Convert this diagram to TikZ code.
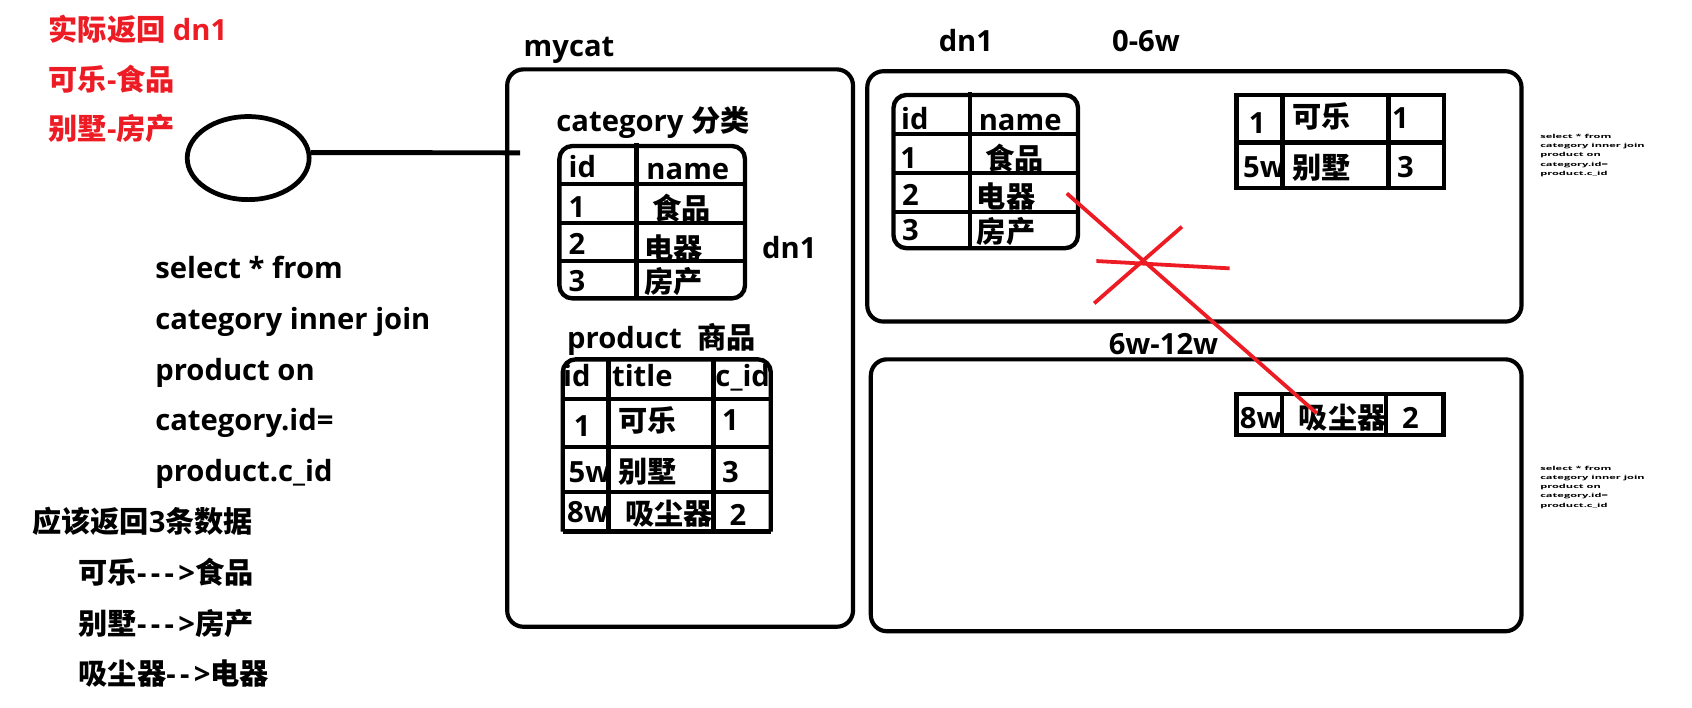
\documentclass[tikz,border=0pt]{standalone}
\usepackage{fontspec}
\usepackage{graphicx}
\setmainfont{Open Sans}
\newfontfamily\cjk{Noto Sans CJK SC}
\usetikzlibrary{shapes.geometric}
\definecolor{paintred}{RGB}{237,28,36}
\newcommand{\zh}[1]{{\cjk #1}}
\newcommand{\dsh}{-\kern.15em}
\tikzstyle{txt} = [anchor=west, inner sep=0pt, text height=11.1pt, text depth=0pt, font=\bfseries\fontsize{15.4}{18}\selectfont]
\tikzstyle{redtxt} = [txt, text=paintred]
\tikzset{
 box/.style
  = {draw, line width=2.2pt, rounded corners=0.3cm},
 tab/.style
  = {draw, line width=2.3pt},
 redline/.style
  = {draw=paintred, line width=2pt},
 tiny/.style
  = {anchor=north west, inner sep=0pt, font=\bfseries\fontsize{5.85}{9.7}\selectfont},
}

\begin{document}
\begin{tikzpicture}[x=0.02cm, y=-0.02cm]
\useasboundingbox (0,0) rectangle (1568,656);

% Result in red
\node[redtxt] (ret) at (44.7,27.8) {\zh{实际返回} dn1};
\node[redtxt] (ret1) at (44.7,73.7) {\zh{可乐}-\zh{食品}};
\node[redtxt] (ret2) at (44.7,119.6) {\zh{别墅}-\zh{房产}};

% Client
\node[draw, ellipse, line width=2.5pt, inner sep=0pt, minimum width=2.26cm, minimum height=1.54cm] (client) at (230,146.5) {};
\coordinate (hook) at (482,141.6);
\draw[line width=2.6pt] (client.5) -- (hook);

% Query
\node[txt] (q1) at (143.6,248.3) {select * from};
\node[txt] (q2) at (143.6,295.5) {category inner join};
\node[txt] (q3) at (143.6,342.5) {product on};
\node[txt] (q4) at (143.6,389.4) {category.id=};
\node[txt] (q5) at (143.6,436.7) {product.c\_id};
\node[txt] (should) at (29.4,484) {\zh{应该返回}3\zh{条数据}};
\node[txt] (ans1) at (72.6,530.6) {\zh{可乐}\dsh\dsh\dsh>\zh{食品}};
\node[txt] (ans2) at (72.6,578) {\zh{别墅}\dsh\dsh\dsh>\zh{房产}};
\node[txt] (ans3) at (72.6,625) {\zh{吸尘器}\dsh\dsh>\zh{电器}};

% mycat
\node[txt] (mycat) at (485,42.8) {mycat};
\draw[box] (470,64.3) rectangle (790.5,580.8);

% Category table
\node[txt] (catlbl) at (515.3,112.3) {category \zh{分类}};
\node[txt] (cid) at (526.7,154.6) {id};
\node[txt] (cname) at (598.7,157) {name};
\node[txt] (c1) at (526.7,192.1) {1};
\node[txt] (cfood) at (604,193.7) {\zh{食品}};
\node[txt] (c2) at (526.7,225.8) {2};
\node[txt] (celec) at (596.8,230.5) {\zh{电器}};
\node[txt] (c3) at (526.7,260.1) {3};
\node[txt] (chouse) at (596.8,261.7) {\zh{房产}};
\node[txt] (dnA) at (706,229.7) {dn1};
\draw[tab, rounded corners=0.24cm] (518.4,135.3) rectangle (690.4,276.5);
\draw[tab] (590,132.2) -- (590,276.5);
\foreach \y in {170.5,206.4,241.6}
  \draw[tab] (518.4,\y) -- (690.4,\y);

% Product table
\node[txt] (prodlbl) at (525.2,313.1) {product\hspace{0.55em}\zh{商品}};
\node[txt] (pid) at (521.5,348.7) {id};
\node[txt] (ptitle) at (566.9,348.7) {title};
\node[txt] (pcid) at (662.7,348.7) {c\_id};
\node[txt] (p11) at (531.4,394.5) {1};
\node[txt] (p12) at (573,390) {\zh{可乐}};
\node[txt] (p13) at (668.8,389.3) {1};
\node[txt] (p21) at (526.7,437.8) {5w};
\node[txt] (p22) at (573,437.8) {\zh{别墅}};
\node[txt] (p23) at (668.8,437.2) {3};
\node[txt] (p31) at (525.2,474.8) {8w};
\node[txt] (p32) at (579.2,476.4) {\zh{吸尘器}};
\node[txt] (p33) at (675.9,477.3) {2};
\draw[tab, rounded corners=0.24cm] (521.5,492.7) -- (521.5,333) -- (714.3,333) -- (714.3,492.7);
\draw[tab] (521.5,492.7) -- (714.3,492.7);
\foreach \x in {563.8,661.1}
  \draw[tab] (\x,333) -- (\x,492.7);
\foreach \y in {369.8,414,455.7}
  \draw[tab] (521.5,\y) -- (714.3,\y);

% dn1 0-6w
\node[txt] (dnB) at (869.6,38.2) {dn1};
\node[txt] (range1) at (1030.3,38.2) {0-6w};
\draw[box] (803.7,66) rectangle (1410,298);
\node[txt] (did) at (834.7,109.8) {id};
\node[txt] (dname) at (906.7,111.4) {name};
\node[txt] (d1) at (834,146.7) {1};
\node[txt] (dfood) at (913,147.4) {\zh{食品}};
\node[txt] (d2) at (835.7,180.4) {2};
\node[txt] (delec) at (905,182.6) {\zh{电器}};
\node[txt] (d3) at (835.7,213.2) {3};
\node[txt] (dhouse) at (905,215.3) {\zh{房产}};
\draw[tab, rounded corners=0.24cm] (828,88) rectangle (999,230);
\draw[tab] (899,85.6) -- (899,230);
\foreach \y in {124.2,160.6,196.2}
  \draw[tab] (828,\y) -- (999,\y);
\node[txt] (s11) at (1157,113.5) {1};
\node[txt] (s12) at (1197,108.1) {\zh{可乐}};
\node[txt] (s13) at (1289.8,109.7) {1};
\node[txt] (s21) at (1151.7,154.5) {5w};
\node[txt] (s22) at (1197,156) {\zh{别墅}};
\node[txt] (s23) at (1294.4,155.2) {3};
\draw[tab] (1146,88) rectangle (1338.3,174.5);
\draw[tab] (1146,131.9) -- (1338.3,131.9);
\foreach \x in {1188.5,1286.7}
  \draw[tab] (\x,88) -- (\x,174.5);

% 6w-12w
\node[txt] (range2) at (1027.2,319) {6w-12w};
\draw[box] (807,333) rectangle (1410,585);
\node[txt] (v1) at (1148.6,387) {8w};
\node[txt] (v2) at (1203.3,387) {\zh{吸尘器}};
\node[txt] (v3) at (1299,387) {2};
\draw[tab] (1146,365.2) rectangle (1337.6,403.2);
\foreach \x in {1187.9,1284.5}
  \draw[tab] (\x,365.2) -- (\x,403.2);

% Small notes
\node[tiny] (note1) at (1427,122) {\scalebox{1}[0.5]{\begin{tabular}{@{}l@{}}select * from\\ category inner join\\ product on\\ category.id=\\ product.c\_id\end{tabular}}};
\node[tiny] (note2) at (1427,429.5) {\scalebox{1}[0.5]{\begin{tabular}{@{}l@{}}select * from\\ category inner join\\ product on\\ category.id=\\ product.c\_id\end{tabular}}};

% Wrong join
\coordinate (xs) at (988.6,179.2);
\coordinate (xe) at (1220.3,383);
\draw[redline] (xs) -- (xe);
\draw[redline] (1014,281.1) -- (1095.3,210.1);
\draw[redline] (1016,241.9) -- (1139.5,248.7);

\end{tikzpicture}
\end{document}
